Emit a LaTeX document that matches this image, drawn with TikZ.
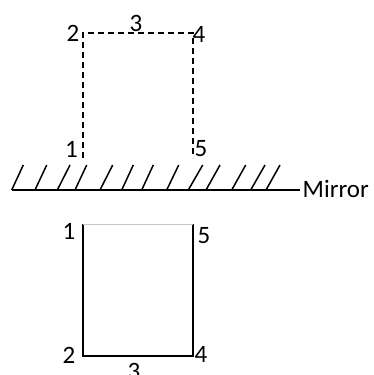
\documentclass[tikz,border=0pt]{standalone}
\usepackage{fontspec}
\setmainfont{Carlito}
\begin{document}
\begin{tikzpicture}[x=1pt,y=-1pt,
  lbl/.style={inner sep=0pt,font=\fontsize{25}{26}\selectfont},
  dashedge/.style={line width=1.7pt,dash pattern=on 6pt off 4pt},
  solidedge/.style={line width=1.9pt},
  hatch/.style={line width=1.5pt},
  mirrorline/.style={line width=1.9pt}]
\useasboundingbox (0,0) rectangle (374,375);
% virtual object (dashed)
\coordinate (t1) at (83,158);
\coordinate (t2) at (83,33);
\coordinate (t4) at (193,33);
\coordinate (t5) at (193,158);
\draw[dashedge] (t1) -- (t2) -- (t4) -- (t5);
\node[lbl] (lt1) at (71.5,149) {1};
\node[lbl] (lt2) at (73,33) {2};
\node[lbl] (lt3) at (136,23) {3};
\node[lbl] (lt4) at (199,34) {4};
\node[lbl] (lt5) at (201,149) {5};
% mirror
\coordinate (mL) at (11.7,190);
\coordinate (mR) at (300,190);
\draw[mirrorline] (mL) -- (mR);
\node[lbl,anchor=west] (mirror) at (302.5,189) {Mirror};
\foreach \b/\t in {11.7/23.3,35/46.7,57.3/70,75/86.7,100/112.7,121.7/133.3,141.7/153.3,166.7/178.7,188.3/202.7,206/220,231.7/245.7,250.7/265,266/280}{
  \draw[hatch] (\b,190) -- (\t,165);
}
% real object
\coordinate (b1) at (83,224.3);
\coordinate (b2) at (83,355.7);
\coordinate (b4) at (193,355.7);
\coordinate (b5) at (193,224.3);
\draw[solidedge] (b1) -- (b2) -- (b4) -- (b5);
\draw[gray!45,line width=0.8pt] (b1) -- (b5);
\node[lbl] (lb1) at (69,231) {1};
\node[lbl] (lb2) at (69,355.5) {2};
\node[lbl] (lb3) at (134,371) {3};
\node[lbl] (lb4) at (201,354) {4};
\node[lbl] (lb5) at (204,236) {5};
\end{tikzpicture}
\end{document}
